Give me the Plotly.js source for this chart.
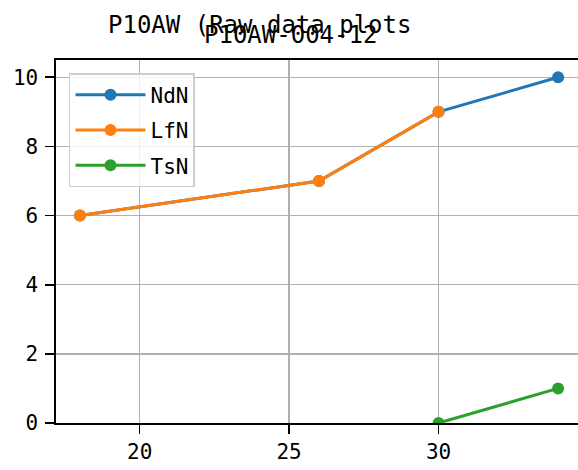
<!DOCTYPE html>
<html>
<head>
<meta charset="utf-8">
<script src="https://cdn.plot.ly/plotly-3.0.1.min.js"></script>
<style>html,body{margin:0;padding:0;overflow:hidden;background:#fff;}</style>
</head>
<body>
<div id="chart" style="width:582px;height:470px;"></div>
<script>
const xNdN = [18, 26, 30, 34];
const yNdN = [6, 7, 9, 10];
const xLfN = [18, 26, 30];
const yLfN = [6, 7, 9];
const xTsN = [30, 34];
const yTsN = [0, 1];
const title1 = "P10AW (Raw data plots";
const title2 = "P10AW-004-12";
const xTicks = [20, 25, 30];
const yTicks = [0, 2, 4, 6, 8, 10];

const FONT = "DejaVu Sans Mono, Liberation Mono, monospace";
function tr(x, y, name, color) {
  return {x: x, y: y, name: name, legendgroup: name, type: 'scatter', mode: 'lines+markers',
    line: {color: color, width: 3}, marker: {color: color, size: 12}};
}
const data = [
  tr(xNdN, yNdN, 'NdN', '#1f77b4'),
  tr(xLfN, yLfN, 'LfN', '#ff7f0e'),
  tr(xTsN, yTsN, 'TsN', '#2ca02c')
];
const axBase = {showline: true, linecolor: '#000', linewidth: 1.6, mirror: true,
  ticks: 'outside', ticklen: 9, tickwidth: 1.6, tickcolor: '#000',
  showgrid: true, gridcolor: '#b0b0b0', gridwidth: 1.4, zeroline: false,
  tickfont: {family: FONT, size: 21, color: '#000'}};
const layout = {
  width: 582, height: 470,
  margin: {l: 56, r: 0, t: 60, b: 47},
  paper_bgcolor: '#fff', plot_bgcolor: '#fff',
  font: {family: FONT, color: '#000'},
  showlegend: true,
  xaxis: Object.assign({}, axBase, {range: [17.2, 34.8], tickvals: xTicks}),
  yaxis: Object.assign({}, axBase, {range: [0, 10.5], tickvals: yTicks, ticklabelstandoff: 3}),
  legend: {x: 0.0247, y: 0.964, xanchor: 'left', yanchor: 'top',
    traceorder: 'grouped', tracegroupgap: 5, itemwidth: 70,
    bgcolor: 'rgba(255,255,255,0.8)', bordercolor: '#cccccc', borderwidth: 1.5,
    font: {family: FONT, size: 21, color: '#000'}},
  annotations: [
    {text: title1, xref: 'paper', yref: 'paper', x: 0.3878, y: 1.0964,
     xanchor: 'center', yanchor: 'middle', showarrow: false,
     font: {family: FONT, size: 24, color: '#000'}},
    {text: title2, xref: 'paper', yref: 'paper', x: 0.4449, y: 1.068,
     xanchor: 'center', yanchor: 'middle', showarrow: false,
     font: {family: FONT, size: 24, color: '#000'}}
  ]
};
Plotly.newPlot('chart', data, layout, {displayModeBar: false, staticPlot: true});
</script>
</body>
</html>
